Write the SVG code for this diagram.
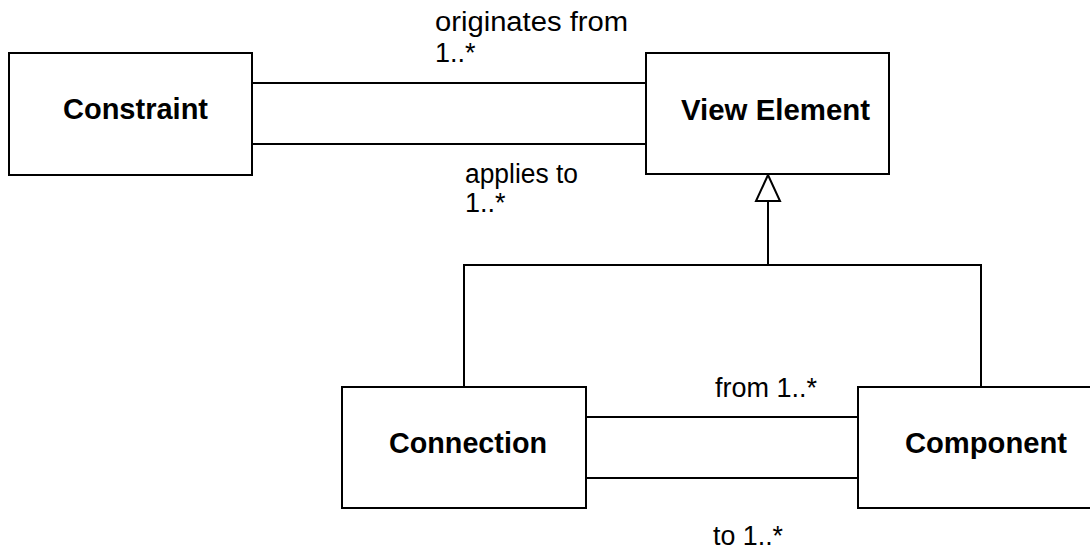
<svg xmlns="http://www.w3.org/2000/svg" width="1090" height="549" viewBox="0 0 1090 549">
<style>
.box{fill:#fff;stroke:#000;stroke-width:2}
.ln{fill:none;stroke:#000;stroke-width:2}
.lbl{font-family:"Liberation Sans",Arial,sans-serif;font-size:29px;font-weight:bold;fill:#000}
.txt{font-family:"Liberation Sans",Arial,sans-serif;font-size:27px;fill:#000}
</style>
<rect width="1090" height="549" fill="#fff"/>
<g id="connectors">
<line class="ln" x1="252" y1="83" x2="646" y2="83"/>
<line class="ln" x1="252" y1="144" x2="646" y2="144"/>
<line class="ln" x1="586" y1="417" x2="858" y2="417"/>
<line class="ln" x1="586" y1="478" x2="858" y2="478"/>
<polyline class="ln" points="464,387 464,265 981,265 981,387"/>
<line class="ln" x1="768" y1="201" x2="768" y2="265"/>
<polygon class="ln" points="768,175 780,201 756,201" style="fill:#fff"/>
<text class="txt" x="435" y="31" textLength="193" lengthAdjust="spacingAndGlyphs">originates from</text>
<text class="txt" x="435" y="62">1..*</text>
<text class="txt" x="465" y="183" textLength="113" lengthAdjust="spacingAndGlyphs">applies to</text>
<text class="txt" x="465" y="212">1..*</text>
<text class="txt" x="715" y="397" textLength="102" lengthAdjust="spacingAndGlyphs">from 1..*</text>
<text class="txt" x="713" y="545" textLength="70" lengthAdjust="spacingAndGlyphs">to 1..*</text>
</g>
<g id="constraint">
<rect class="box" x="9" y="53" width="243" height="122"/>
<text class="lbl" x="63" y="119" textLength="145" lengthAdjust="spacingAndGlyphs">Constraint</text>
</g>
<g id="view-element">
<rect class="box" x="646" y="53" width="243" height="121"/>
<text class="lbl" x="681" y="120" textLength="189" lengthAdjust="spacingAndGlyphs">View Element</text>
</g>
<g id="connection">
<rect class="box" x="342" y="387" width="244" height="121"/>
<text class="lbl" x="389" y="453" textLength="158" lengthAdjust="spacingAndGlyphs">Connection</text>
</g>
<g id="component">
<rect class="box" x="858" y="387" width="250" height="121"/>
<text class="lbl" x="905" y="453" textLength="162" lengthAdjust="spacingAndGlyphs">Component</text>
</g>
</svg>
